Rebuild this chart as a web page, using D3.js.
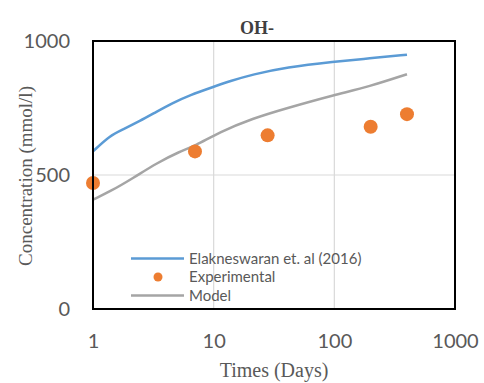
<!DOCTYPE html>
<html>
<head>
<meta charset="utf-8">
<script src="https://cdn.jsdelivr.net/npm/d3@7"></script>
<style>
  body { margin: 0; background: #fff; }
</style>
</head>
<body>
<script>
// data
var elakDays = [1, 1.38, 1.77, 2.44, 3.36, 4.58, 6.34, 9.8, 13.6, 21, 40, 100, 195, 400];
var elakConc = [588, 647, 670, 701, 736, 769, 798, 828, 850, 875, 902, 923, 935, 949];
var expDays = [1, 7, 28, 200, 400];
var expConc = [470, 588, 648, 680, 727];
var modelDays = [1, 1.38, 2.14, 3.36, 5.24, 7, 11.2, 21, 40, 100, 195, 400];
var modelConc = [408, 438, 488, 544, 588, 608, 660, 711, 749, 799, 830, 876];
var xTicks = [1, 10, 100, 1000];
var yTicks = [0, 500, 1000];

var W = 484, H = 383;
var m = {left: 93, right: 29, top: 41, bottom: 74};

var svg = d3.select('body')
    .append('svg')
    .attr('width', W)
    .attr('height', H)

var x = d3.scaleLog().domain([1, 1000]).range([m.left, W - m.right]);
var y = d3.scaleLinear().domain([0, 1000]).range([H - m.bottom, m.top]);

// gridlines
svg.selectAll('.vgrid')
    .data(xTicks.slice(1, 3))
    .enter()
    .append('line')
    .attr('x1', d => x(d)).attr('x2', d => x(d))
    .attr('y1', y(0)).attr('y2', y(1000))
    .attr('stroke', '#d9d9d9')
    .attr('stroke-width', 1.2);

svg.selectAll('.hgrid')
    .data([500])
    .enter()
    .append('line')
    .attr('x1', x(1)).attr('x2', x(1000))
    .attr('y1', d => y(d)).attr('y2', d => y(d))
    .attr('stroke', '#d9d9d9')
    .attr('stroke-width', 1.2);

var line = d3.line()
    .x(d => x(d[0]))
    .y(d => y(d[1]))
    .curve(d3.curveBasis);

svg.append('path')
    .datum(d3.zip(modelDays, modelConc))
    .attr('d', line)
    .attr('fill', 'none')
    .attr('stroke', '#a5a5a5')
    .attr('stroke-width', 2.5);

svg.append('path')
    .datum(d3.zip(elakDays, elakConc))
    .attr('d', line)
    .attr('fill', 'none')
    .attr('stroke', '#5b9bd5')
    .attr('stroke-width', 2.5);

svg.selectAll('.dot')
    .data(d3.zip(expDays, expConc))
    .enter()
    .append('circle')
    .attr('cx', d => x(d[0]))
    .attr('cy', d => y(d[1]))
    .attr('r', 7)
    .attr('fill', '#ed7d31');

// frame
svg.append('rect')
    .attr('x', x(1)).attr('y', y(1000))
    .attr('width', x(1000) - x(1))
    .attr('height', y(0) - y(1000))
    .attr('fill', 'none')
    .attr('stroke', '#000')
    .attr('stroke-width', 2);

// axes
var xAxis = svg.append('g')
    .attr('transform', 'translate(0,' + (H - m.bottom) + ')')
    .call(d3.axisBottom(x).tickValues(xTicks).tickFormat(d3.format('d')).tickSize(0).tickPadding(25));
var yAxis = svg.append('g')
    .attr('transform', 'translate(' + m.left + ',0)')
    .call(d3.axisLeft(y).tickValues(yTicks).tickFormat(d3.format('d')).tickSize(0).tickPadding(23));
[xAxis, yAxis].forEach(function (g) {
  g.select('.domain').remove();
  g.selectAll('text')
    .attr('fill', '#595959')
    .style('font-family', 'Lato, "Noto Sans", sans-serif')
    .style('font-size', '20px');
});

// titles
svg.append('text')
    .attr('x', 257).attr('y', 34)
    .attr('text-anchor', 'middle')
    .attr('fill', '#404040')
    .style('font-family', '"Liberation Serif", "Times New Roman", serif')
    .style('font-weight', 'bold')
    .style('font-size', '18px')
    .text('OH-');

svg.append('text')
    .attr('x', 274).attr('y', 377)
    .attr('text-anchor', 'middle')
    .attr('fill', '#595959')
    .style('font-family', '"Liberation Serif", "Times New Roman", serif')
    .style('font-size', '20px')
    .text('Times (Days)');

svg.append('text')
    .attr('transform', 'translate(32,176) rotate(-90)')
    .attr('text-anchor', 'middle')
    .attr('fill', '#595959')
    .style('font-family', '"Liberation Serif", "Times New Roman", serif')
    .style('font-size', '19px')
    .text('Concentration (mmol/l)');

// legend
var legendNames = ['Elakneswaran et. al (2016)', 'Experimental', 'Model'];
var legendColors = ['#5b9bd5', '#ed7d31', '#a5a5a5'];
var lg = svg.selectAll('.leg')
    .data(legendNames)
    .enter()
    .append('g')
    .attr('transform', (d, i) => 'translate(131,' + (258.5 + i * 18.5) + ')');
lg.filter((d, i) => i !== 1)
    .append('line')
    .attr('x1', 0).attr('x2', 53)
    .attr('stroke', d => legendColors[legendNames.indexOf(d)])
    .attr('stroke-width', 2.5);
lg.filter((d, i) => i === 1)
    .append('circle')
    .attr('cx', 27).attr('r', 4.5)
    .attr('fill', legendColors[1]);
lg.append('text')
    .attr('x', 58).attr('dy', '0.35em')
    .attr('fill', '#595959')
    .style('font-family', 'Lato, "Noto Sans", sans-serif')
    .style('font-size', '15px')
    .text(d => d);
</script>
</body>
</html>
